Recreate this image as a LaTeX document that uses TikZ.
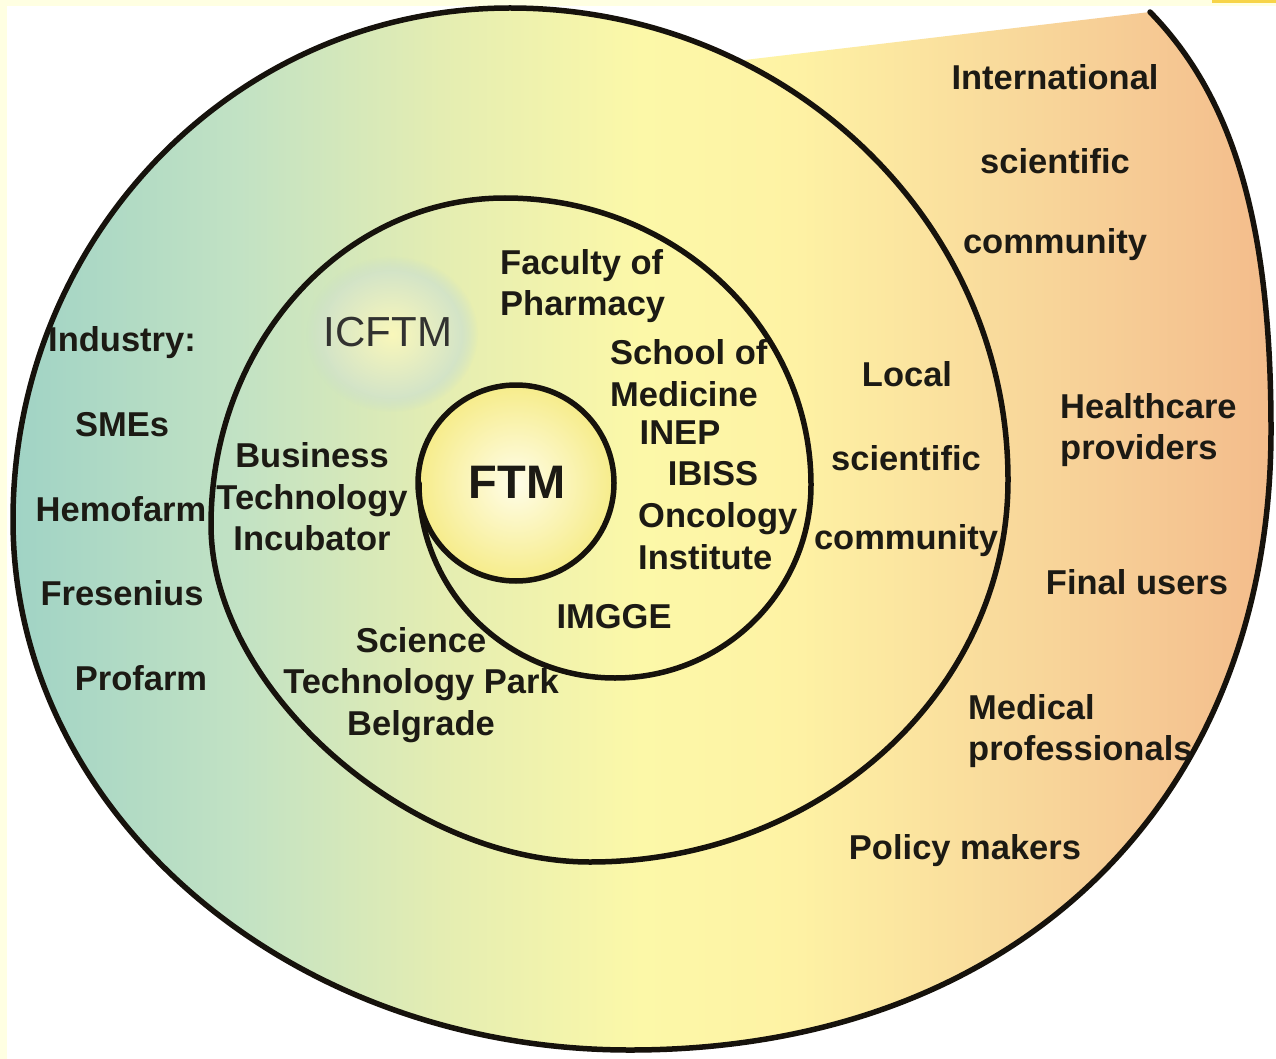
\documentclass[tikz,border=0pt]{standalone}
\usepackage{fontspec}
\setmainfont{Liberation Sans}
\usetikzlibrary{fadings}

% palette
\definecolor{pagetint}{RGB}{255,255,226}
\definecolor{tabgold}{RGB}{247,212,72}
\definecolor{inkline}{RGB}{22,18,12}
\definecolor{inktext}{RGB}{28,26,20}
\definecolor{icgray}{RGB}{50,50,48}
\definecolor{spA}{RGB}{160,211,197}
\definecolor{spB}{RGB}{194,226,196}
\definecolor{spC}{RGB}{228,237,178}
\definecolor{spD}{RGB}{252,248,168}
\definecolor{spE}{RGB}{254,242,164}
\definecolor{spF}{RGB}{249,219,156}
\definecolor{spG}{RGB}{246,202,148}
\definecolor{spH}{RGB}{243,188,139}
\definecolor{glowcore}{RGB}{249,247,186}
\definecolor{glowring}{RGB}{202,223,202}
\definecolor{ftmcore}{RGB}{255,253,232}
\definecolor{ftmedge}{RGB}{246,236,138}

% teal -> pale yellow -> peach band across the spiral
\pgfdeclarehorizontalshading{spiralband}{100bp}{%
  color(0bp)=(spA); color(25bp)=(spA); color(34bp)=(spB); color(42bp)=(spC);
  color(50bp)=(spD); color(56bp)=(spE); color(64bp)=(spF); color(70bp)=(spG);
  color(75bp)=(spH); color(100bp)=(spH)}

\newcommand\lblfont{\fontsize{34.5}{41.5}\selectfont\bfseries}

\tikzset{
  spiralline/.style={draw=inkline, line width=5.5pt, line cap=round, line join=round},
  lbl/.style={text=inktext, inner sep=0pt, font=\lblfont},
  lblblock/.style={lbl, align=left},
  lblcentre/.style={lbl, align=center},
}

\begin{document}
\begin{tikzpicture}[x=1pt, y=-1pt]
\useasboundingbox (0,0) rectangle (1276,1059);

% page and canvas
\fill[pagetint] (0,0) rectangle (1276,1059);
\fill[white] (7,6) rectangle (1276,1059);
\fill[tabgold] (1212,0) rectangle (1276,3);

% spiral control points
\coordinate (s0) at (419,483);
\coordinate (b1) at (615,678);
\coordinate (r1) at (811,485);
\coordinate (t1) at (505,198);
\coordinate (l2) at (211,525);
\coordinate (b2) at (590,862);
\coordinate (r2) at (1008,480);
\coordinate (xs) at (738.8,60.7);
\coordinate (t2) at (510,8);
\coordinate (l3) at (13,520);
\coordinate (b3) at (630,1050);
\coordinate (r3) at (1271,430);
\coordinate (se) at (1150,12);

% coloured body of the outer turn
\shade[shading=spiralband] (xs)
  .. controls (670.3,27) and (592.5,8) .. (t2)
  .. controls (235.5,8) and (13,237.2) .. (l3)
  .. controls (13,812.7) and (289.2,1050) .. (b3)
  .. controls (1016.4,1050) and (1271,802) .. (r3)
  .. controls (1271,230) and (1236,100) .. (se)
  -- cycle;

% soft halo behind ICFTM
\shade[inner color=glowcore, outer color=glowring,
       path fading=circle with fuzzy edge 20 percent]
  (392,334) ellipse [x radius=86pt, y radius=78pt];

% FTM core
\shade[inner color=ftmcore, outer color=ftmedge] (516,483) circle [radius=98pt];
\draw[spiralline] (516,483) circle [radius=98pt];

% the spiral
\draw[spiralline] (s0)
  .. controls (419,590.7) and (506.7,678) .. (b1)
  .. controls (723.3,678) and (811,591.6) .. (r1)
  .. controls (811,326.5) and (674,198) .. (t1)
  .. controls (342.6,198) and (211,344.4) .. (l2)
  .. controls (211,690) and (410,862) .. (b2)
  .. controls (820.9,862) and (1008,691) .. (r2)
  .. controls (1008,297.5) and (898.7,139.2) .. (xs)
  .. controls (670.3,27) and (592.5,8) .. (t2)
  .. controls (235.5,8) and (13,237.2) .. (l3)
  .. controls (13,812.7) and (289.2,1050) .. (b3)
  .. controls (1016.4,1050) and (1271,802) .. (r3)
  .. controls (1271,230) and (1236,100) .. (se);

% centre
\node[lbl, font=\fontsize{47}{50}\selectfont\bfseries] (ftm) at (517,482) {FTM};
\node[text=icgray, inner sep=0pt, font=\fontsize{42}{46}\selectfont] (icftm) at (388,332) {ICFTM};

% first turn
\node[lblblock, anchor=west] (pharm) at (500,286) {Faculty of\\Pharmacy};
\node[lblblock, anchor=west] (medic) at (610,373) {School of\\Medicine};
\node[lbl] (inep) at (680,433) {INEP};
\node[lbl] (ibiss) at (713,474) {IBISS};
\node[lblblock, anchor=west] (onco) at (638,536) {Oncology\\Institute};
\node[lbl] (imgge) at (614,617) {IMGGE};

% second turn
\node[lblcentre] (bti) at (312,497) {Business\\Technology\\Incubator};
\node[lblcentre] (stp) at (421,685) {Science\\Technology Park\\Belgrade};
\node[lbl] (local1) at (907,374) {Local};
\node[lbl] (local2) at (906,458) {scientific};
\node[lbl] (local3) at (906,541) {community};

% outer turn
\node[lbl] (ind0) at (122,343) {Industry:};
\node[lbl] (ind1) at (122,425) {SMEs};
\node[lbl] (ind2) at (121,509) {Hemofarm};
\node[lbl] (ind3) at (122,593) {Fresenius};
\node[lbl] (ind4) at (141,678) {Profarm};
\node[lbl] (intl1) at (1055,77) {International};
\node[lbl] (intl2) at (1055,161) {scientific};
\node[lbl] (intl3) at (1055,245) {community};
\node[lblblock, anchor=west] (health) at (1060,430) {Healthcare\\providers};
\node[lbl] (final) at (1137,582) {Final users};
\node[lblblock, anchor=west] (medpro) at (968,731) {Medical\\professionals};
\node[lbl] (policy) at (965,851) {Policy makers};
\end{tikzpicture}
\end{document}
